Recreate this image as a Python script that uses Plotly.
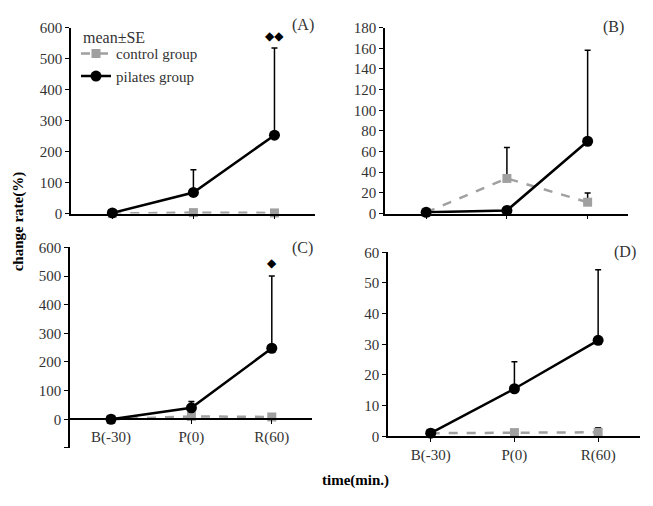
import plotly.graph_objects as go


categories = ["B(-30)", "P(0)", "R(60)"]

# (A)
a_control = [0, 3, 2]
a_control_se = [0, 2, 2]
a_pilates = [2, 68, 253]
a_pilates_se = [0, 73, 281]

# (B)
b_control = [1.2, 34, 11]
b_control_se = [0, 30, 9]
b_pilates = [1.2, 3, 70]
b_pilates_se = [0, 0, 88]

# (C)
c_control = [0, 10, 8]
c_control_se = [0, 3, 3]
c_pilates = [0, 40, 248]
c_pilates_se = [0, 22, 252]

# (D)
d_control = [1, 1.2, 1.3]
d_control_se = [0, 0.3, 1.5]
d_pilates = [1, 15.5, 31.3]
d_pilates_se = [0, 8.8, 23]

a_ticks = [0, 100, 200, 300, 400, 500, 600]
b_ticks = [0, 20, 40, 60, 80, 100, 120, 140, 160, 180]
c_ticks = [-100, 0, 100, 200, 300, 400, 500, 600]
d_ticks = [0, 10, 20, 30, 40, 50, 60]

_W, _H = 653, 506
_OFF = 8  # page body margin shifts the figure by 8px right and down
_serif = "Liberation Serif"
_gray = "#a0a0a0"
_txt = "#333333"


# --------------------------------------------------------------------------------------------
def _px_x(px):
    """ on-screen pixel -> paper x """
    return (px - _OFF) / _W


def _px_y(py):
    """ on-screen pixel -> paper y """
    return 1 - (py - _OFF) / _H


# --------------------------------------------------------------------------------------------
def _add_pair(fig, n, control, control_se, pilates, pilates_se, legend=False):
    """ control (gray dashed squares) + pilates (black circles), plus-side SE bars """
    xa = "x" if n == 1 else "x%d" % n
    ya = "y" if n == 1 else "y%d" % n
    err = dict(type="data", symmetric=False, arrayminus=[0, 0, 0],
               color="black", thickness=1.5, width=3)

    fig.add_trace(go.Scatter(
        x=categories, y=control, name="control group", xaxis=xa, yaxis=ya,
        mode="lines+markers", cliponaxis=False, showlegend=legend,
        line=dict(color=_gray, width=2.5, dash="dash"),
        marker=dict(symbol="square", size=9, color=_gray),
        error_y=dict(err, array=control_se)))

    fig.add_trace(go.Scatter(
        x=categories, y=pilates, name="pilates group", xaxis=xa, yaxis=ya,
        mode="lines+markers", cliponaxis=False, showlegend=legend,
        line=dict(color="black", width=2.5),
        marker=dict(symbol="circle", size=11, color="black"),
        error_y=dict(err, array=pilates_se)))


# --------------------------------------------------------------------------------------------
def _xaxis(x0, x1, anchor, labels, position=None):
    ax = dict(domain=[_px_x(x0), _px_x(x1)], type="category", range=[-0.51, 2.5],
              showline=True, linecolor="black", linewidth=1.5,
              ticks="outside", ticklen=4, tickcolor="black",
              showticklabels=labels, showgrid=False, zeroline=False,
              tickfont=dict(family=_serif, size=15, color=_txt))
    if position is None:
        ax["anchor"] = anchor
    else:
        ax["anchor"] = "free"
        ax["position"] = position
    return ax


def _yaxis(y0, y1, anchor, rng, ticks, texts=None):
    return dict(domain=[_px_y(y1), _px_y(y0)], anchor=anchor, range=rng,
                showline=True, linecolor="black", linewidth=1.5,
                ticks="outside", ticklen=4, tickcolor="black",
                tickvals=ticks, ticktext=texts if texts else [str(t) for t in ticks],
                showgrid=False, zeroline=False,
                tickfont=dict(family=_serif, size=15, color=_txt))


# --------------------------------------------------------------------------------------------
fig = go.Figure()
_add_pair(fig, 1, a_control, a_control_se, a_pilates, a_pilates_se, legend=True)
_add_pair(fig, 2, b_control, b_control_se, b_pilates, b_pilates_se)
_add_pair(fig, 3, c_control, c_control_se, c_pilates, c_pilates_se)
_add_pair(fig, 4, d_control, d_control_se, d_pilates, d_pilates_se)

fig.update_layout(
    width=_W, height=_H, autosize=False,
    margin=dict(l=0, r=0, t=0, b=0, pad=0),
    paper_bgcolor="white", plot_bgcolor="white",
    font=dict(family=_serif, size=15, color=_txt),
    xaxis=_xaxis(71, 315, "y", False),
    yaxis=_yaxis(20, 212, "x", [0, 600], a_ticks),
    xaxis2=_xaxis(385, 628, "y2", False),
    yaxis2=_yaxis(20, 212, "x2", [0, 180], b_ticks),
    xaxis3=_xaxis(70, 312, "y3", True, position=_px_y(424)),
    yaxis3=_yaxis(247, 454, "x3", [-100, 600], c_ticks,
                  [""] + [str(t) for t in c_ticks[1:]]),
    xaxis4=_xaxis(388, 640, "y4", True),
    yaxis4=_yaxis(252, 442, "x4", [0, 60], d_ticks),
    legend=dict(x=_px_x(76), y=_px_y(30), xanchor="left", yanchor="top",
                bgcolor="rgba(0,0,0,0)", itemwidth=30, tracegroupgap=0,
                font=dict(family=_serif, size=15, color=_txt)),
)

# legend heading
fig.add_annotation(text="mean±SE", x=_px_x(81), y=_px_y(30), xref="paper", yref="paper",
                   xanchor="left", yanchor="middle", showarrow=False,
                   font=dict(family=_serif, size=16, color=_txt))

# panel letters
for txt, px, py in [("(A)", 303, 17), ("(B)", 613, 19), ("(C)", 302, 248), ("(D)", 625, 252)]:
    fig.add_annotation(text=txt, x=_px_x(px), y=_px_y(py), xref="paper", yref="paper",
                       xanchor="center", yanchor="middle", showarrow=False,
                       font=dict(family=_serif, size=16, color=_txt))

# significance marks
fig.add_annotation(text="◆◆", x="R(60)", y=572, xref="x", yref="y", showarrow=False,
                   font=dict(family="DejaVu Sans", size=12, color="black"))
fig.add_annotation(text="◆", x="R(60)", y=546, xref="x3", yref="y3", showarrow=False,
                   font=dict(family="DejaVu Sans", size=12, color="black"))

# axis titles
fig.add_annotation(text="<b>change rate(%)</b>", x=_px_x(18), y=_px_y(220), xref="paper", yref="paper",
                   textangle=-90, showarrow=False, xanchor="center", yanchor="middle",
                   font=dict(family=_serif, size=15, color="black"))
fig.add_annotation(text="<b>time(min.)</b>", x=_px_x(355), y=_px_y(488), xref="paper", yref="paper",
                   showarrow=False, xanchor="center", yanchor="middle",
                   font=dict(family=_serif, size=15, color="black"))

fig.write_html("out.html")
